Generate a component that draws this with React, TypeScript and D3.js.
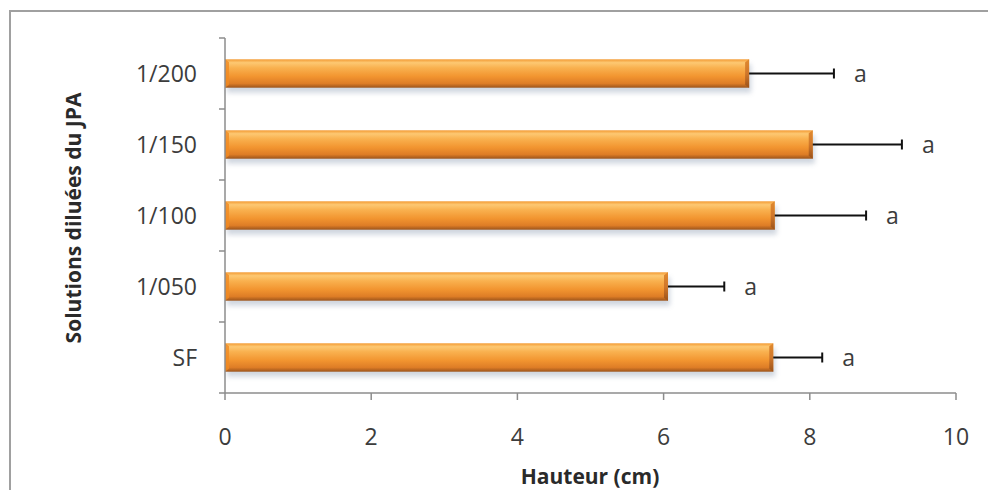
import React from "react";
import * as d3 from "d3";

const categories = ["1/200", "1/150", "1/100", "1/050", "SF"];
const means = [7.17, 8.04, 7.52, 6.06, 7.5];
const errors = [1.16, 1.22, 1.25, 0.77, 0.67];
const letters = ["a", "a", "a", "a", "a"];
const xTicks = [0, 2, 4, 6, 8, 10];
const xTitle = "Hauteur (cm)";
const yTitle = "Solutions diluées du JPA";

const W = 988;
const H = 490;
const FONT = "'Open Sans', 'Liberation Sans', sans-serif";
const TEXT = "#3c3c3c";
const AXIS = "#8c8c8c";

export default function App() {
  const x = d3.scaleLinear().domain([0, 10]).range([225, 956]);
  const y = d3
    .scaleBand<string>()
    .domain(categories)
    .range([38, 393])
    .paddingInner(0.6)
    .paddingOuter(0.3);
  const step = y.step();
  const bw = y.bandwidth();
  const boundaries = d3.range(categories.length + 1).map((i) => 38 + i * step);

  return (
    <svg
      width={W}
      height={H}
      style={{ position: "absolute", left: 0, top: 0, background: "#fff" }}
      fontFamily={FONT}
    >
      <defs>
        <linearGradient id="barGrad" x1="0" y1="0" x2="0" y2="1">
          <stop offset="0%" stopColor="#f39a33" />
          <stop offset="12%" stopColor="#fdc872" />
          <stop offset="30%" stopColor="#f9b14f" />
          <stop offset="60%" stopColor="#f29530" />
          <stop offset="85%" stopColor="#de7d26" />
          <stop offset="100%" stopColor="#9c541b" />
        </linearGradient>
        <linearGradient id="endGrad" x1="0" y1="0" x2="0" y2="1">
          <stop offset="0%" stopColor="#e08a30" />
          <stop offset="50%" stopColor="#d0772a" />
          <stop offset="100%" stopColor="#9a521a" />
        </linearGradient>
        <filter id="shadow" x="-5%" y="-50%" width="110%" height="200%">
          <feGaussianBlur stdDeviation="2.5" />
        </filter>
      </defs>

      {/* outer border */}
      <line x1={10} y1={11} x2={W} y2={11} stroke="#a0a0a0" strokeWidth={2} />
      <line x1={10} y1={10} x2={10} y2={H} stroke="#a0a0a0" strokeWidth={2} />

      {/* bars */}
      {categories.map((c, i) => {
        const y0 = y(c)!;
        const x0 = x(0);
        const x1 = x(means[i]);
        return (
          <g key={c}>
            <rect
              x={x0 + 2}
              y={y0 + 5}
              width={x1 - x0}
              height={bw}
              fill="#8a9ab0"
              opacity={0.4}
              filter="url(#shadow)"
            />
            <rect x={x0} y={y0} width={x1 - x0} height={bw} fill="url(#barGrad)" />
            <polygon
              points={`${x1 - 4},${y0 + 3} ${x1},${y0} ${x1},${y0 + bw} ${x1 - 4},${y0 + bw - 3}`}
              fill="url(#endGrad)"
            />
            <polygon
              points={`${x0},${y0} ${x0 + 4},${y0 + 3} ${x0 + 4},${y0 + bw - 3} ${x0},${y0 + bw}`}
              fill="#f08a22"
              opacity={0.8}
            />
          </g>
        );
      })}

      {/* error bars */}
      {categories.map((c, i) => {
        const cy = y(c)! + bw / 2;
        const xe = x(means[i] + errors[i]);
        return (
          <g key={"e" + c} stroke="#111" strokeWidth={2}>
            <line x1={x(means[i])} y1={cy} x2={xe} y2={cy} />
            <line x1={xe} y1={cy - 5} x2={xe} y2={cy + 5} />
          </g>
        );
      })}

      {/* letters */}
      {categories.map((c, i) => (
        <text
          key={"l" + c}
          x={x(means[i] + errors[i]) + 20}
          y={y(c)! + bw / 2}
          dy="0.35em"
          fontSize={23}
          fill={TEXT}
        >
          {letters[i]}
        </text>
      ))}

      {/* y axis */}
      <line x1={225} y1={38} x2={225} y2={393} stroke={AXIS} strokeWidth={1.5} />
      {boundaries.map((b, i) => (
        <line key={"yt" + i} x1={219} y1={b} x2={225} y2={b} stroke={AXIS} strokeWidth={1.5} />
      ))}
      {categories.map((c) => (
        <text
          key={"yl" + c}
          x={197}
          y={y(c)! + bw / 2}
          dy="0.36em"
          textAnchor="end"
          fontSize={23}
          fill={TEXT}
        >
          {c}
        </text>
      ))}

      {/* x axis */}
      <line x1={225} y1={393} x2={956} y2={393} stroke={AXIS} strokeWidth={1.5} />
      {xTicks.map((t) => (
        <g key={"xt" + t}>
          <line x1={x(t)} y1={393} x2={x(t)} y2={400} stroke={AXIS} strokeWidth={1.5} />
          <text x={x(t)} y={437} dy="0.36em" textAnchor="middle" fontSize={23} fill={TEXT}>
            {t}
          </text>
        </g>
      ))}

      {/* titles */}
      <text
        x={590}
        y={476}
        dy="0.36em"
        textAnchor="middle"
        fontSize={21}
        fontWeight="bold"
        fill="#2a2a2a"
      >
        {xTitle}
      </text>
      <text
        transform={`translate(73, 218) rotate(-90)`}
        dy="0.36em"
        textAnchor="middle"
        fontSize={21}
        fontWeight="bold"
        fill="#2a2a2a"
      >
        {yTitle}
      </text>
    </svg>
  );
}
